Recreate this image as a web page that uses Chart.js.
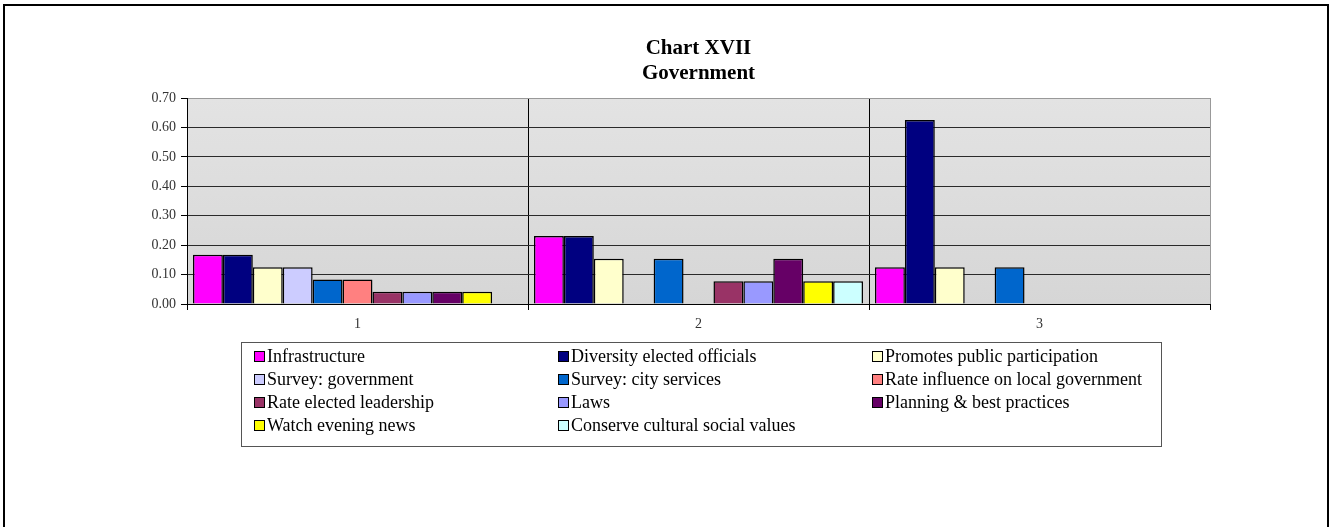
<!DOCTYPE html>
<html>
<head>
<meta charset="utf-8">
<title>Chart XVII - Government</title>
<script src="https://cdn.jsdelivr.net/npm/chart.js@4.4.1/dist/chart.umd.min.js"></script>
<style>
  html, body { margin: 0; padding: 0; background: #fff; overflow: hidden; }
  .frame {
    position: absolute; left: 3px; top: 4px;
    width: 1322px; height: 600px;
    border: 2px solid #000;
  }
  .chart-wrap { position: absolute; left: 0; top: 0; width: 1331px; height: 527px; }
  .legend {
    position: absolute; left: 241px; top: 342px;
    width: 921px; height: 105px;
    border: 1px solid #555;
    box-sizing: border-box;
    display: grid;
    grid-template-columns: 304px 314px auto;
    grid-auto-rows: 23px;
    padding: 2px 0 0 12px;
    font-family: "Liberation Serif", "DejaVu Serif", serif;
    font-size: 18px; color: #000;
  }
  .legend-item { display: flex; align-items: center; white-space: nowrap; }
  .swatch {
    width: 9px; height: 9px; margin-right: 2px;
    border: 1.5px solid #000; flex: none;
  }
</style>
</head>
<body>
<div class="frame"></div>
<div class="chart-wrap"><canvas id="govChart"></canvas></div>
<div class="legend" id="legend"></div>

<script>
// Categories and series
const categories = ["1", "2", "3"];

const seriesNames = [
  "Infrastructure",
  "Diversity elected officials",
  "Promotes public participation",
  "Survey: government",
  "Survey: city services",
  "Rate influence on local government",
  "Rate elected leadership",
  "Laws",
  "Planning & best practices",
  "Watch evening news",
  "Conserve cultural social values",
];

const seriesColors = [
  "#FF00FF", "#000080", "#FFFFCC", "#CCCCFF", "#0066CC", "#FF8080",
  "#993366", "#9999FF", "#660066", "#FFFF00", "#CCFFFF",
];

const infrastructure = [0.167, 0.231, 0.125];
const diversityOfficials = [0.167, 0.231, 0.625];
const publicParticipation = [0.125, 0.154, 0.125];
const surveyGovernment = [0.125, 0, 0];
const surveyCityServices = [0.083, 0.154, 0.125];
const rateInfluence = [0.083, 0, 0];
const rateLeadership = [0.042, 0.077, 0];
const laws = [0.042, 0.077, 0];
const planning = [0.042, 0.154, 0];
const eveningNews = [0.042, 0.077, 0];
const culturalValues = [0, 0.077, 0];

const seriesValues = [
  infrastructure, diversityOfficials, publicParticipation, surveyGovernment,
  surveyCityServices, rateInfluence, rateLeadership, laws, planning,
  eveningNews, culturalValues,
];

const yTicks = [0, 0.1, 0.2, 0.3, 0.4, 0.5, 0.6, 0.7];

const serif = "'Liberation Serif', 'DejaVu Serif', serif";

// Gray gradient behind the plot area
const plotBackground = {
  id: "plotBackground",
  beforeDraw(chart) {
    const { ctx, chartArea: a } = chart;
    const g = ctx.createLinearGradient(0, a.top, 0, a.bottom);
    g.addColorStop(0, "#e3e3e3");
    g.addColorStop(1, "#d6d6d6");
    ctx.save();
    ctx.fillStyle = g;
    ctx.fillRect(a.left, a.top, a.right - a.left, a.bottom - a.top);
    ctx.restore();
  },
};

const datasets = seriesNames.map((name, i) => ({
  label: name,
  data: seriesValues[i],
  backgroundColor: seriesColors[i],
  borderColor: "#000",
  borderWidth: 1.5,
  categoryPercentage: 0.965,
  barPercentage: 1.0,
}));

new Chart(document.getElementById("govChart"), {
  type: "bar",
  data: { labels: categories, datasets },
  plugins: [plotBackground],
  options: {
    responsive: true,
    maintainAspectRatio: false,
    animation: false,
    layout: { padding: { left: 127, right: 121, top: 0, bottom: 193 } },
    plugins: {
      legend: { display: false },
      tooltip: { enabled: false },
      title: {
        display: true,
        fullSize: false,
        text: ["Chart XVII", "Government"],
        color: "#000",
        font: { family: serif, size: 21, weight: "bold", lineHeight: 25 / 21 },
        padding: { top: 36, bottom: 12 },
      },
    },
    scales: {
      x: {
        offset: true,
        grid: {
          offset: true,
          color: (ctx) => (ctx.type === "tick" ? "#000" : "#999"),
          tickColor: "#000",
          tickLength: 6,
          lineWidth: 1,
        },
        border: { color: "#000", width: 1 },
        ticks: { color: "#333", font: { family: serif, size: 14 }, padding: 6 },
        afterFit: (s) => { s.height = 30; },
      },
      y: {
        min: 0,
        max: 0.7,
        afterBuildTicks: (s) => { s.ticks = yTicks.map((v) => ({ value: v })); },
        grid: {
          color: (ctx) => (ctx.tick && ctx.tick.value === 0.7 ? "#999" : "#2a2a2a"),
          tickColor: "#000",
          tickLength: 6,
          lineWidth: 1,
        },
        border: { color: "#000", width: 1 },
        ticks: {
          color: "#333",
          font: { family: serif, size: 14 },
          padding: 5,
          callback: (v) => Number(v).toFixed(2),
        },
        afterFit: (s) => { s.width = 60; },
      },
    },
  },
});

// Legend in three columns, built from the same series
const legend = document.getElementById("legend");
seriesNames.forEach((name, i) => {
  const item = document.createElement("div");
  item.className = "legend-item";
  item.innerHTML = `<span class="swatch" style="background:${seriesColors[i]}"></span><span>${name.replace("&", "&amp;")}</span>`;
  legend.appendChild(item);
});
</script>
</body>
</html>
